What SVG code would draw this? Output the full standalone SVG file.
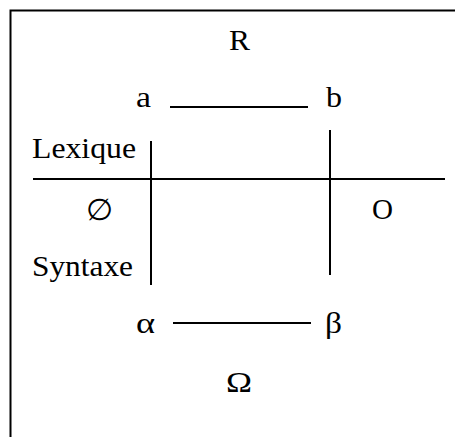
<svg xmlns="http://www.w3.org/2000/svg" width="455" height="437" viewBox="0 0 455 437">
<defs>
<style>
.ln{stroke:#000;stroke-width:2;fill:none}
</style>
</defs>
<rect width="455" height="437" fill="#fff"/>
<path class="ln" d="M10.5 437V10.5H455"/>
<g id="connectors">
<line class="ln" x1="170" y1="107" x2="308" y2="107"/>
<line class="ln" x1="173" y1="323" x2="311" y2="323" stroke-width="1.5"/>
<line class="ln" x1="33" y1="179" x2="445" y2="179"/>
<line class="ln" x1="151" y1="141" x2="151" y2="285"/>
<line class="ln" x1="330" y1="130" x2="330" y2="275"/>
</g>
<g font-family="Liberation Serif, serif" font-size="30" fill="#000">
<g id="R"><text x="229" y="50" font-family="Liberation Serif" font-size="30" textLength="21" lengthAdjust="spacingAndGlyphs">R</text></g>
<g id="a"><text x="136" y="107" font-family="Liberation Serif" font-size="30" textLength="15" lengthAdjust="spacingAndGlyphs">a</text></g>
<g id="b"><text x="326" y="107" font-family="Liberation Serif" font-size="30" textLength="16" lengthAdjust="spacingAndGlyphs">b</text></g>
<g id="lexique"><text x="32" y="158" font-family="Liberation Serif" font-size="30" textLength="104" lengthAdjust="spacingAndGlyphs">Lexique</text></g>
<g id="empty"><text x="86" y="220" font-family="Liberation Serif" font-size="30" textLength="27" lengthAdjust="spacingAndGlyphs">∅</text></g>
<g id="O"><text x="372" y="219" font-family="Liberation Serif" font-size="30" textLength="21" lengthAdjust="spacingAndGlyphs">O</text></g>
<g id="syntaxe"><text x="32" y="276" font-family="Liberation Serif" font-size="30" textLength="101" lengthAdjust="spacingAndGlyphs">Syntaxe</text></g>
<g id="alpha"><text x="136" y="333" font-family="Liberation Serif" font-size="30" textLength="19" lengthAdjust="spacingAndGlyphs">α</text></g>
<g id="beta"><text x="325" y="333" font-family="Liberation Serif" font-size="30" textLength="17" lengthAdjust="spacingAndGlyphs">β</text></g>
<g id="omega"><text x="226" y="392" font-family="Liberation Serif" font-size="30" textLength="26" lengthAdjust="spacingAndGlyphs">Ω</text></g>
</g>
</svg>
